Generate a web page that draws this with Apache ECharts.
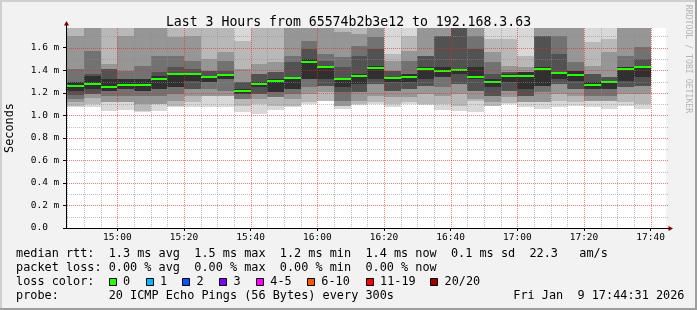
<!DOCTYPE html>
<html><head><meta charset="utf-8">
<script src="https://cdn.jsdelivr.net/npm/echarts@6/dist/echarts.min.js"></script>
<style>html,body{margin:0;padding:0;background:#f2f2f2}#c{width:697px;height:310px}</style>
</head><body><div id="c"></div>
<script>
// ---------------- data ----------------
const columnStarts = ['14:45','14:50','14:55','15:00','15:05','15:10','15:15','15:20','15:25','15:30','15:35','15:40','15:45','15:50','15:55','16:00','16:05','16:10','16:15','16:20','16:25','16:30','16:35','16:40','16:45','16:50','16:55','17:00','17:05','17:10','17:15','17:20','17:25','17:30','17:35'];
const medianRtt = [1.259,1.280,1.250,1.271,1.271,1.324,1.368,1.368,1.342,1.360,1.218,1.280,1.306,1.333,1.474,1.430,1.324,1.350,1.421,1.330,1.339,1.412,1.395,1.404,1.342,1.297,1.350,1.350,1.412,1.377,1.360,1.271,1.292,1.412,1.430];
// smoke bands, outer (lightest) to inner (darkest): upper and lower edges in ms
const hi1 = [1.80,1.80,1.80,1.80,1.80,1.80,1.80,1.80,1.80,1.80,1.80,1.80,1.80,1.80,1.80,1.80,1.80,1.80,1.80,1.80,1.80,1.80,1.80,1.80,1.80,1.80,1.80,1.80,1.80,1.80,1.80,1.80,1.80,1.80,1.80];
const hi2 = [1.80,1.80,1.80,1.80,1.80,1.80,1.80,1.80,1.80,1.80,1.662,1.80,1.80,1.80,1.80,1.80,1.80,1.80,1.80,1.544,1.706,1.80,1.80,1.80,1.80,1.677,1.677,1.529,1.80,1.80,1.80,1.647,1.677,1.80,1.80];
const hi3 = [1.706,1.80,1.455,1.706,1.80,1.80,1.692,1.706,1.500,1.559,1.411,1.455,1.470,1.80,1.80,1.80,1.736,1.721,1.80,1.485,1.573,1.80,1.80,1.80,1.80,1.559,1.441,1.426,1.80,1.80,1.80,1.441,1.559,1.80,1.80];
const hi4 = [1.411,1.573,1.411,1.396,1.441,1.529,1.529,1.485,1.396,1.485,1.293,1.367,1.381,1.529,1.662,1.544,1.514,1.618,1.692,1.396,1.485,1.529,1.706,1.80,1.706,1.470,1.381,1.381,1.706,1.706,1.470,1.367,1.337,1.529,1.603];
const hi5 = [1.293,1.367,1.411,1.322,1.322,1.381,1.426,1.411,1.396,1.396,1.293,1.367,1.381,1.470,1.588,1.485,1.426,1.529,1.588,1.396,1.367,1.529,1.706,1.80,1.588,1.367,1.381,1.381,1.706,1.544,1.396,1.367,1.337,1.426,1.500];
const hi6 = [1.293,1.352,1.322,1.322,1.322,1.352,1.373,1.367,1.352,1.367,1.234,1.293,1.322,1.337,1.500,1.441,1.322,1.367,1.441,1.337,1.367,1.426,1.426,1.411,1.426,1.322,1.367,1.381,1.426,1.381,1.396,1.293,1.293,1.426,1.426];
const lo6 = [1.219,1.234,1.219,1.234,1.219,1.234,1.249,1.308,1.293,1.322,1.190,1.249,1.204,1.234,1.322,1.322,1.249,1.278,1.322,1.293,1.293,1.322,1.337,1.367,1.322,1.249,1.293,1.234,1.263,1.322,1.308,1.234,1.234,1.308,1.337];
const lo5 = [1.184,1.190,1.219,1.234,1.219,1.234,1.249,1.234,1.293,1.322,1.190,1.190,1.204,1.234,1.322,1.263,1.204,1.204,1.278,1.219,1.234,1.263,1.337,1.278,1.219,1.175,1.219,1.175,1.263,1.278,1.234,1.234,1.234,1.249,1.263];
const lo4 = [1.145,1.190,1.175,1.175,1.175,1.175,1.190,1.234,1.234,1.219,1.145,1.190,1.160,1.190,1.249,1.263,1.131,1.204,1.278,1.219,1.234,1.263,1.249,1.278,1.219,1.175,1.219,1.175,1.204,1.278,1.234,1.175,1.175,1.249,1.263];
const lo3 = [1.116,1.154,1.116,1.116,1.101,1.101,1.131,1.175,1.175,1.175,1.145,1.145,1.160,1.145,1.190,1.204,1.086,1.131,1.175,1.160,1.160,1.190,1.175,1.190,1.145,1.116,1.160,1.116,1.116,1.190,1.175,1.131,1.131,1.190,1.190];
const lo2 = [1.086,1.101,1.116,1.116,1.036,1.101,1.086,1.116,1.175,1.175,1.086,1.101,1.086,1.086,1.116,1.131,1.086,1.101,1.116,1.101,1.116,1.101,1.101,1.086,1.125,1.086,1.107,1.116,1.116,1.131,1.116,1.131,1.131,1.116,1.101];
const lo1 = [1.071,1.071,1.036,1.048,1.030,1.042,1.077,1.071,1.077,1.077,1.030,1.012,1.048,1.077,1.101,1.125,1.057,1.095,1.101,1.071,1.101,1.095,1.048,1.036,1.030,1.083,1.101,1.071,1.057,1.077,1.086,1.071,1.057,1.086,1.057];
const xTickLabels = ['15:00','15:20','15:40','16:00','16:20','16:40','17:00','17:20','17:40'];
const yTickValues = [0,0.2,0.4,0.6,0.8,1.0,1.2,1.4,1.6];
const lossLabels = ['0','1','2','3','4-5','6-10','11-19','20/20'];
const lossColors = ['#26ff00','#00b8ff','#0059ff','#7e00ff','#ff00ff','#ff5500','#ff0000','#a00000'];
const titleText = 'Last 3 Hours from 65574b2b3e12 to 192.168.3.63';
const legendRow1 = 'median rtt:  1.3 ms avg  1.5 ms max  1.2 ms min  1.4 ms now  0.1 ms sd  22.3   am/s';
const legendRow2 = 'packet loss: 0.00 % avg  0.00 % max  0.00 % min  0.00 % now';
const legendRow4 = 'probe:       20 ICMP Echo Pings (56 Bytes) every 300s';
const dateText = 'Fri Jan  9 17:44:31 2026';
const viewStart = '14:44:36', viewEnd = '17:44:36';
const yMax = 1.775;

// ---------------- helpers / layout ----------------
const MONO = "'DejaVu Sans Mono', monospace";
const toMin = s => { const p = s.split(':').map(Number); return p[0]*60 + p[1] + (p[2]||0)/60; };
const fmtMin = v => { const h = Math.floor(v/60), m = Math.round(v - h*60); return String(h).padStart(2,'0') + ':' + String(m).padStart(2,'0'); };
const tMin = toMin(viewStart), tMax = toMin(viewEnd);
const STEP = 5;
const bandColors = ['#d8d8d8','#b8b8b8','#969696','#727272','#525252','#303030'];
const his = [hi1,hi2,hi3,hi4,hi5,hi6], los = [lo1,lo2,lo3,lo4,lo5,lo6];
const GL = 66, GT = 28, GW = 600, GH = 200;

function clipTo(cs, r) {
  return echarts.graphic.clipRectByRect(r, {x: cs.x, y: cs.y, width: cs.width, height: cs.height});
}
function bandSeries(k) {
  return {
    type: 'custom', coordinateSystem: 'cartesian2d', z: 2 + k*0.01, silent: true,
    encode: {x: 0, y: [1, 2]},
    data: columnStarts.map((s, i) => [toMin(s), los[k][i], his[k][i]]),
    renderItem(params, api) {
      const t = api.value(0);
      const a = api.coord([t, api.value(2)]), b = api.coord([t + STEP, api.value(1)]);
      const x1 = Math.round(a[0]), x2 = Math.round(b[0]), y1 = Math.round(a[1]), y2 = Math.round(b[1]);
      const r = clipTo(params.coordSys, {x: x1, y: y1, width: x2 - x1, height: y2 - y1});
      if (!r) return null;
      return {type: 'rect', shape: r, style: {fill: bandColors[k]}};
    }
  };
}
const series = [];
for (let k = 0; k < 6; k++) series.push(bandSeries(k));
series.push({
  type: 'custom', coordinateSystem: 'cartesian2d', z: 3, silent: true,
  encode: {x: 0, y: 1},
  data: columnStarts.map((s, i) => [toMin(s), medianRtt[i]]),
  renderItem(params, api) {
    const t = api.value(0);
    const a = api.coord([t, api.value(1)]), b = api.coord([t + STEP, api.value(1)]);
    const x1 = Math.round(a[0]), x2 = Math.round(b[0]), y = Math.round(a[1]);
    return {type: 'rect', shape: {x: x1, y: y - 1, width: x2 - x1, height: 2}, style: {fill: lossColors[0]}};
  }
});
// grid lines (drawn over the smoke, like rrdtool)
const vMinor = [], vMajor = [];
for (let m = 885; m <= 1060; m += 5) (m % 20 === 0 ? vMajor : vMinor).push([m, 0]);
const hMinor = [], hMajor = [];
for (let k = 1; k <= 17; k++) (k % 2 === 0 ? hMajor : hMinor).push([tMin, k/10]);
const MINOR = 'rgba(140,140,140,0.55)', MAJOR = 'rgba(235,40,40,0.6)';
function vGridSeries(data, color, z) {
  return {
    type: 'custom', coordinateSystem: 'cartesian2d', z: z, silent: true,
    encode: {x: 0, y: 1}, data: data,
    renderItem(params, api) {
      const cs = params.coordSys;
      const x = Math.round(api.coord([api.value(0), 0])[0]) + 0.5;
      if (x <= cs.x + 1) return null;
      return {type: 'line', shape: {x1: x, y1: cs.y, x2: x, y2: cs.y + cs.height},
        style: {stroke: color, lineWidth: 1, lineDash: [1, 1]}};
    }
  };
}
function hGridSeries(data, color, z) {
  return {
    type: 'custom', coordinateSystem: 'cartesian2d', z: z, silent: true,
    encode: {x: 0, y: 1}, data: data,
    renderItem(params, api) {
      const cs = params.coordSys;
      const y = Math.round(api.coord([api.value(0), api.value(1)])[1]) + 0.5;
      return {type: 'line', shape: {x1: cs.x + 1, y1: y, x2: cs.x + cs.width + 2, y2: y},
        style: {stroke: color, lineWidth: 1, lineDash: [1, 1]}};
    }
  };
}
series.push(vGridSeries(vMinor, MINOR, 4));
series.push(hGridSeries(hMinor, MINOR, 4));
series.push(vGridSeries(vMajor, MAJOR, 5));
series.push(hGridSeries(hMajor, MAJOR, 5));

// legend row 3 layout
const boxX = [108.7,145.7,182.3,219.3,256,307,365.7,430.3];
const graphics = [
  {type: 'rect', shape: {x: 0, y: 0, width: 697, height: 2}, style: {fill: '#cfcfcf'}, silent: true},
  {type: 'rect', shape: {x: 0, y: 0, width: 2, height: 310}, style: {fill: '#cfcfcf'}, silent: true},
  {type: 'rect', shape: {x: 0, y: 308, width: 697, height: 2}, style: {fill: '#9e9e9e'}, silent: true},
  {type: 'rect', shape: {x: 695, y: 0, width: 2, height: 310}, style: {fill: '#9e9e9e'}, silent: true},
  // axis extensions + arrows
  {type: 'line', shape: {x1: GL + 0.5, y1: GT, x2: GL + 0.5, y2: GT - 3}, style: {stroke: '#000', lineWidth: 1}, z: 20},
  {type: 'polygon', shape: {points: [[GL - 2, GT - 2.5], [GL + 3, GT - 2.5], [GL + 0.5, GT - 7]]}, style: {fill: '#7f0000'}, z: 20},
  {type: 'line', shape: {x1: GL + GW, y1: GT + GH + 0.5, x2: GL + GW + 3, y2: GT + GH + 0.5}, style: {stroke: '#000', lineWidth: 1}, z: 20},
  {type: 'polygon', shape: {points: [[GL + GW + 2.5, GT + GH - 2], [GL + GW + 2.5, GT + GH + 3], [GL + GW + 7, GT + GH + 0.5]]}, style: {fill: '#7f0000'}, z: 20},
  // watermark
  {type: 'text', x: 688, y: 59, rotation: -Math.PI/2, style: {text: 'RRDTOOL / TOBI OETIKER', font: '8.2px ' + MONO, fill: '#b4b4b4', align: 'center', verticalAlign: 'middle'}},
  {type: 'text', x: 16, y: 254.3, style: {text: legendRow1, font: '11.85px ' + MONO, fill: '#000', align: 'left', verticalAlign: 'middle'}},
  {type: 'text', x: 16, y: 267.7, style: {text: legendRow2, font: '11.85px ' + MONO, fill: '#000', align: 'left', verticalAlign: 'middle'}},
  {type: 'text', x: 16, y: 282.3, style: {text: 'loss color:', font: '11.85px ' + MONO, fill: '#000', align: 'left', verticalAlign: 'middle'}},
  {type: 'text', x: 16, y: 296, style: {text: legendRow4, font: '11.85px ' + MONO, fill: '#000', align: 'left', verticalAlign: 'middle'}},
  {type: 'text', x: 513.3, y: 296, style: {text: dateText, font: '11.85px ' + MONO, fill: '#000', align: 'left', verticalAlign: 'middle'}}
];
lossLabels.forEach((lab, i) => {
  graphics.push({type: 'rect', shape: {x: Math.round(boxX[i]) + 0.5, y: 278.5, width: 7, height: 7}, style: {fill: lossColors[i], stroke: '#000', lineWidth: 1}});
  graphics.push({type: 'text', x: boxX[i] + 14.3, y: 282.3, style: {text: lab, font: '11.85px ' + MONO, fill: '#000', align: 'left', verticalAlign: 'middle'}});
});

const chart = echarts.init(document.getElementById('c'), null, {renderer: 'canvas'});
chart.setOption({
  animation: false,
  backgroundColor: '#f2f2f2',
  title: {text: titleText, left: 'center', top: 10, textStyle: {fontFamily: MONO, fontSize: 13.2, fontWeight: 'normal', color: '#000', lineHeight: 15}},
  grid: {left: GL, top: GT, width: GW, height: GH, show: true, backgroundColor: '#ffffff', borderWidth: 0, containLabel: false, outerBoundsMode: 'none'},
  xAxis: {
    type: 'value', min: tMin, max: tMax, z: 10,
    axisLine: {show: true, lineStyle: {color: '#000', width: 1}},
    axisTick: {show: true, length: 3, inside: false, customValues: xTickLabels.map(toMin), lineStyle: {color: '#000'}},
    axisLabel: {customValues: xTickLabels.map(toMin), formatter: v => fmtMin(v), fontFamily: MONO, fontSize: 9.5, color: '#000', margin: 5, lineHeight: 10},
    splitLine: {show: false}
  },
  yAxis: {
    type: 'value', min: 0, max: yMax, z: 10,
    name: 'Seconds', nameLocation: 'middle', nameGap: 50,
    nameTextStyle: {fontFamily: MONO, fontSize: 11.85, color: '#000'},
    axisLine: {show: true, lineStyle: {color: '#000', width: 1}},
    axisTick: {show: true, length: 3, customValues: yTickValues, lineStyle: {color: '#000'}},
    axisLabel: {customValues: yTickValues, formatter: v => v === 0 ? '0.0' : v.toFixed(1) + ' m', align: 'left', margin: 35.3, fontFamily: MONO, fontSize: 9.5, color: '#000'},
    splitLine: {show: false}
  },
  graphic: graphics,
  series: series
});
</script></body></html>
